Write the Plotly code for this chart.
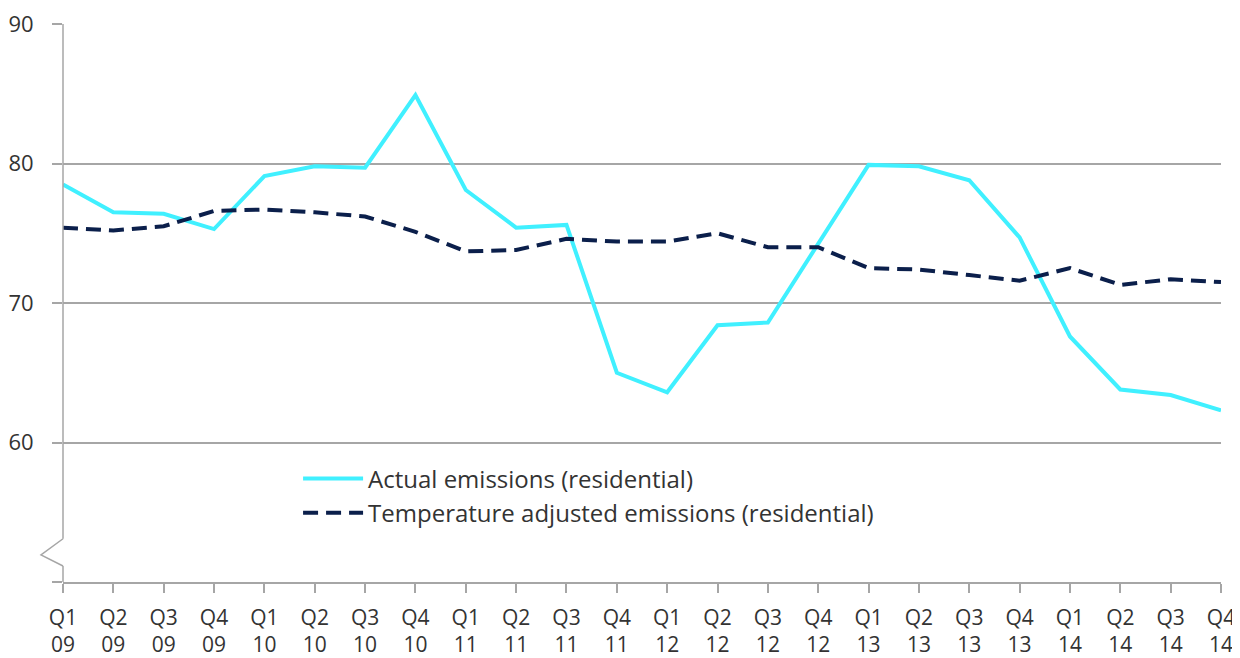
import plotly.graph_objects as go

quarters = ["Q1", "Q2", "Q3", "Q4"]
years = ["09", "10", "11", "12", "13", "14"]
categories = [f"{q} {y}" for y in years for q in quarters]
tick_labels = [f"{q}<br>{y}" for y in years for q in quarters]

actual = [78.5, 76.5, 76.4, 75.3, 79.1, 79.8, 79.7, 84.9, 78.1, 75.4, 75.6, 65.0,
          63.6, 68.4, 68.6, 74.2, 79.9, 79.8, 78.8, 74.7, 67.6, 63.8, 63.4, 62.3]
adjusted = [75.4, 75.2, 75.5, 76.6, 76.7, 76.5, 76.2, 75.1, 73.7, 73.8, 74.6, 74.4,
            74.4, 75.0, 74.0, 74.0, 72.5, 72.4, 72.0, 71.6, 72.5, 71.3, 71.7, 71.5]

y_ticks = [50, 60, 70, 80, 90]
y_ticktext = ["", "60", "70", "80", "90"]

FONT = "Open Sans, DejaVu Sans, sans-serif"
TXT = "#333333"
GRID = "#a6a6a6"

fig = go.Figure()
fig.add_trace(go.Scatter(x=categories, y=actual, mode="lines",
                         name="Actual emissions (residential)",
                         line=dict(color="#40F0FF", width=4)))
fig.add_trace(go.Scatter(x=categories, y=adjusted, mode="lines",
                         name="Temperature adjusted emissions (residential)",
                         line=dict(color="#0B1F4B", width=4, dash="15px,8px")))

fig.update_layout(
    width=1232, height=650,
    margin=dict(l=55, r=19, t=16, b=76, autoexpand=False),
    plot_bgcolor="white", paper_bgcolor="white",
    font=dict(family=FONT, size=22, color=TXT),
    showlegend=True,
    legend=dict(x=0.203, y=0.225, xanchor="left", yanchor="top",
                bgcolor="rgba(0,0,0,0)", font=dict(size=24, color=TXT),
                itemwidth=60, tracegroupgap=0),
    xaxis=dict(type="category", categoryorder="array", categoryarray=categories,
               tickmode="array", tickvals=categories, ticktext=tick_labels,
               range=[0, len(categories) - 1], automargin=False,
               showgrid=False, showline=True, linecolor=GRID, linewidth=1.5,
               ticks="outside", ticklen=9, tickcolor=GRID, tickwidth=1.5,
               ticklabelstandoff=7, ticklabeloverflow="allow",
               tickfont=dict(size=21, color=TXT), zeroline=False),
    yaxis=dict(range=[50, 90], tickmode="array", tickvals=y_ticks, ticktext=y_ticktext,
               automargin=False, ticklabeloverflow="allow",
               showgrid=True, gridcolor=GRID, gridwidth=1.5,
               showline=False, ticks="outside", ticklen=10, tickcolor=GRID, tickwidth=1.5,
               ticklabelstandoff=14, tickfont=dict(size=22, color=TXT), zeroline=False),
)

# y axis line with break mark
axis_line = dict(color=GRID, width=1.5)
fig.add_shape(type="line", xref="paper", yref="y", x0=0, x1=0, y0=53.1, y1=90, line=axis_line)
fig.add_shape(type="line", xref="paper", yref="y", x0=0, x1=0, y0=50, y1=51.15, line=axis_line)
fig.add_shape(type="path", xref="paper", yref="y",
              path="M 0,53.1 L -0.019,51.95 L 0,51.15", line=axis_line)

fig.write_html("out.html")
